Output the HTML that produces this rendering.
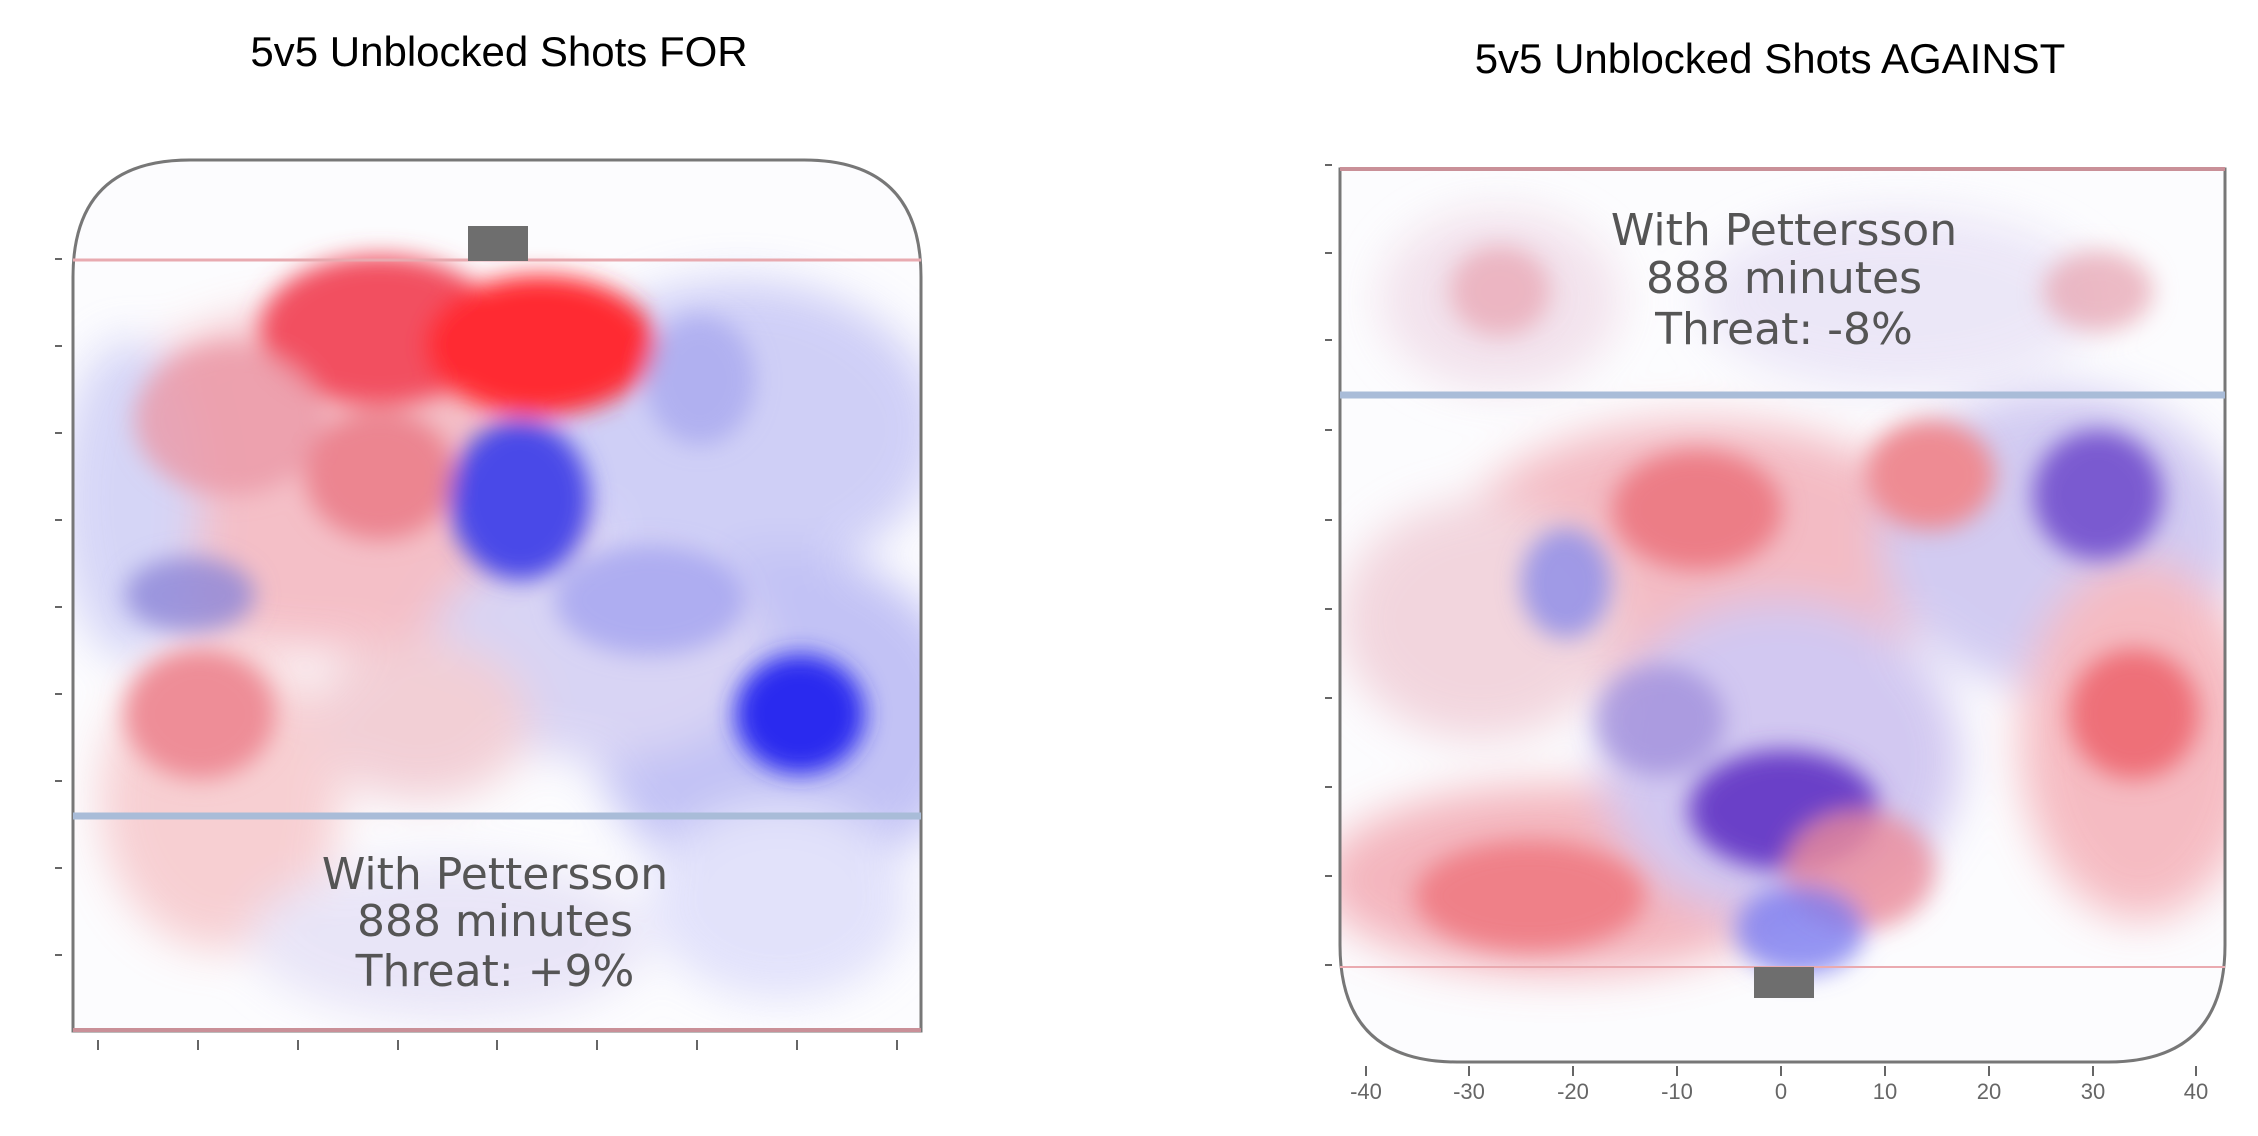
<!DOCTYPE html>
<html><head><meta charset="utf-8"><style>
html,body{margin:0;padding:0;background:#fff;}
body{width:2258px;height:1136px;overflow:hidden;position:relative;font-family:"Liberation Sans",sans-serif;}
.t{position:absolute;font-size:42px;color:#000;white-space:nowrap;transform:translateX(-50%);}
</style></head><body>
<div class="t" style="left:499px;top:28px;">5v5 Unblocked Shots FOR</div>
<div class="t" style="left:1770px;top:35px;">5v5 Unblocked Shots AGAINST</div>
<svg width="2258" height="1136" style="position:absolute;left:0;top:0">
<defs>
<filter id="b" x="-50%" y="-50%" width="200%" height="200%"><feGaussianBlur stdDeviation="22"/></filter>
<filter id="b2" x="-50%" y="-50%" width="200%" height="200%"><feGaussianBlur stdDeviation="12"/></filter>
<clipPath id="cl"><path d="M73,1031 V277 Q73,160 190,160 H804 Q921,160 921,277 V1031 Z"/></clipPath>
<clipPath id="cr"><path d="M1340,169 H2225 V945 Q2225,1062 2108,1062 H1457 Q1340,1062 1340,945 Z"/></clipPath>
</defs>
<!-- LEFT -->
<g clip-path="url(#cl)">
<rect x="73" y="160" width="848" height="871" fill="#fcfcfe"/>
<g filter="url(#b)" opacity="0.8">
<ellipse cx="330" cy="480" rx="260" ry="170" fill="#f3b0ba"/>
<ellipse cx="740" cy="430" rx="200" ry="150" fill="#c4c4f5"/>
<ellipse cx="780" cy="720" rx="190" ry="170" fill="#b4b4f3"/>
<ellipse cx="220" cy="800" rx="120" ry="150" fill="#f6c4c8"/>
<ellipse cx="600" cy="650" rx="170" ry="110" fill="#d0cbf2"/>
<ellipse cx="780" cy="900" rx="130" ry="100" fill="#dcdcfa"/>
<ellipse cx="450" cy="940" rx="200" ry="80" fill="#e4e0f6"/>
<ellipse cx="130" cy="500" rx="70" ry="160" fill="#ccccf5"/>
<ellipse cx="420" cy="720" rx="110" ry="80" fill="#f0c4cc"/>
</g>
<g filter="url(#b2)">
<ellipse cx="380" cy="330" rx="120" ry="75" fill="#f25060"/>
<ellipse cx="540" cy="345" rx="115" ry="70" fill="#ff2a30"/>
<ellipse cx="230" cy="420" rx="95" ry="75" fill="#eb98a8" opacity="0.8"/>
<ellipse cx="380" cy="475" rx="75" ry="65" fill="#ea7582" opacity="0.8"/>
<ellipse cx="520" cy="500" rx="70" ry="80" fill="#4a4ae8"/>
<ellipse cx="800" cy="714" rx="65" ry="60" fill="#2a2aef"/>
<ellipse cx="200" cy="714" rx="75" ry="65" fill="#ee8d97"/>
<ellipse cx="190" cy="595" rx="65" ry="38" fill="#8c86d8" opacity="0.8"/>
<ellipse cx="650" cy="600" rx="95" ry="55" fill="#9c9cef" opacity="0.7"/>
<ellipse cx="700" cy="380" rx="55" ry="65" fill="#a4a4ee" opacity="0.7"/>
</g>
</g>
<g fill="none">
<path d="M73,1031 V277 Q73,160 190,160 H804 Q921,160 921,277 V1031 Z" stroke="#777" stroke-width="3"/>
<line x1="73" y1="260" x2="921" y2="260" stroke="#e8aab0" stroke-width="3"/>
<line x1="73" y1="816" x2="921" y2="816" stroke="#a9bcd8" stroke-width="7"/>
<line x1="73" y1="1030" x2="921" y2="1030" stroke="#c99098" stroke-width="4"/>
</g>
<rect x="468" y="226" width="60" height="35" fill="#6e6e6e"/>
<g stroke="#666" stroke-width="2">
<line x1="98" y1="1040" x2="98" y2="1050"/><line x1="198" y1="1040" x2="198" y2="1050"/><line x1="298" y1="1040" x2="298" y2="1050"/><line x1="398" y1="1040" x2="398" y2="1050"/><line x1="497" y1="1040" x2="497" y2="1050"/><line x1="597" y1="1040" x2="597" y2="1050"/><line x1="697" y1="1040" x2="697" y2="1050"/><line x1="797" y1="1040" x2="797" y2="1050"/><line x1="897" y1="1040" x2="897" y2="1050"/>
<line x1="55" y1="259" x2="62" y2="259"/><line x1="55" y1="346" x2="62" y2="346"/><line x1="55" y1="433" x2="62" y2="433"/><line x1="55" y1="520" x2="62" y2="520"/><line x1="55" y1="607" x2="62" y2="607"/><line x1="55" y1="694" x2="62" y2="694"/><line x1="55" y1="781" x2="62" y2="781"/><line x1="55" y1="868" x2="62" y2="868"/><line x1="55" y1="955" x2="62" y2="955"/>
</g>
<g font-family="DejaVu Sans, sans-serif" font-size="44" fill="#555" text-anchor="middle">
<text x="495" y="889">With Pettersson</text>
<text x="495" y="936">888 minutes</text>
<text x="495" y="986">Threat: +9%</text>
</g>
<!-- RIGHT -->
<g clip-path="url(#cr)">
<rect x="1340" y="169" width="885" height="893" fill="#fcfcfe"/>
<g filter="url(#b)" opacity="0.8">
<ellipse cx="1700" cy="560" rx="250" ry="140" fill="#f2acb6"/>
<ellipse cx="2060" cy="540" rx="180" ry="150" fill="#c8c0ef"/>
<ellipse cx="1560" cy="880" rx="240" ry="95" fill="#f2a4ae"/>
<ellipse cx="2140" cy="740" rx="120" ry="180" fill="#f4acb4"/>
<ellipse cx="1780" cy="760" rx="180" ry="160" fill="#c8bcee"/>
<ellipse cx="1480" cy="620" rx="140" ry="120" fill="#f0ccd6"/>
<ellipse cx="1500" cy="300" rx="120" ry="90" fill="#f0dce8"/>
<ellipse cx="1900" cy="300" rx="200" ry="90" fill="#e8e2f6"/>
</g>
<g filter="url(#b2)">
<ellipse cx="1697" cy="510" rx="85" ry="60" fill="#ec7d86"/>
<ellipse cx="1930" cy="475" rx="65" ry="55" fill="#ee8b93"/>
<ellipse cx="2098" cy="495" rx="65" ry="65" fill="#7a5ad0"/>
<ellipse cx="2134" cy="714" rx="65" ry="65" fill="#ee7078"/>
<ellipse cx="1784" cy="810" rx="95" ry="60" fill="#6a40c8"/>
<ellipse cx="1530" cy="896" rx="115" ry="55" fill="#ef8088"/>
<ellipse cx="1860" cy="870" rx="75" ry="60" fill="#ec8c98" opacity="0.8"/>
<ellipse cx="1566" cy="583" rx="45" ry="55" fill="#8b8be8" opacity="0.8"/>
<ellipse cx="1500" cy="291" rx="50" ry="45" fill="#eaaab8" opacity="0.8"/>
<ellipse cx="2098" cy="291" rx="55" ry="40" fill="#e8aab6" opacity="0.8"/>
<ellipse cx="1800" cy="930" rx="65" ry="45" fill="#7b7bef" opacity="0.8"/>
<ellipse cx="1660" cy="720" rx="65" ry="55" fill="#9a88d8" opacity="0.7"/>
</g>
</g>
<g fill="none">
<path d="M1340,169 H2225 V945 Q2225,1062 2108,1062 H1457 Q1340,1062 1340,945 Z" stroke="#777" stroke-width="3"/>
<line x1="1340" y1="169" x2="2225" y2="169" stroke="#c99098" stroke-width="4"/>
<line x1="1340" y1="395" x2="2225" y2="395" stroke="#a9bcd8" stroke-width="7"/>
<line x1="1340" y1="967" x2="2225" y2="967" stroke="#eaaab0" stroke-width="2"/>
</g>
<rect x="1754" y="967" width="60" height="31" fill="#6e6e6e"/>
<g stroke="#666" stroke-width="2">
<line x1="1366" y1="1066" x2="1366" y2="1076"/><line x1="1469" y1="1066" x2="1469" y2="1076"/><line x1="1573" y1="1066" x2="1573" y2="1076"/><line x1="1677" y1="1066" x2="1677" y2="1076"/><line x1="1781" y1="1066" x2="1781" y2="1076"/><line x1="1885" y1="1066" x2="1885" y2="1076"/><line x1="1989" y1="1066" x2="1989" y2="1076"/><line x1="2093" y1="1066" x2="2093" y2="1076"/><line x1="2196" y1="1066" x2="2196" y2="1076"/>
<line x1="1325" y1="165" x2="1332" y2="165"/><line x1="1325" y1="253" x2="1332" y2="253"/><line x1="1325" y1="340" x2="1332" y2="340"/><line x1="1325" y1="430" x2="1332" y2="430"/><line x1="1325" y1="520" x2="1332" y2="520"/><line x1="1325" y1="609" x2="1332" y2="609"/><line x1="1325" y1="698" x2="1332" y2="698"/><line x1="1325" y1="787" x2="1332" y2="787"/><line x1="1325" y1="876" x2="1332" y2="876"/><line x1="1325" y1="965" x2="1332" y2="965"/>
</g>
<g font-family="Liberation Sans, sans-serif" font-size="22" fill="#666" text-anchor="middle">
<text x="1366" y="1099">-40</text><text x="1469" y="1099">-30</text><text x="1573" y="1099">-20</text><text x="1677" y="1099">-10</text><text x="1781" y="1099">0</text><text x="1885" y="1099">10</text><text x="1989" y="1099">20</text><text x="2093" y="1099">30</text><text x="2196" y="1099">40</text>
</g>
<g font-family="DejaVu Sans, sans-serif" font-size="44" fill="#555" text-anchor="middle">
<text x="1784" y="245">With Pettersson</text>
<text x="1784" y="293">888 minutes</text>
<text x="1784" y="344">Threat: -8%</text>
</g>
</svg>
</body></html>
